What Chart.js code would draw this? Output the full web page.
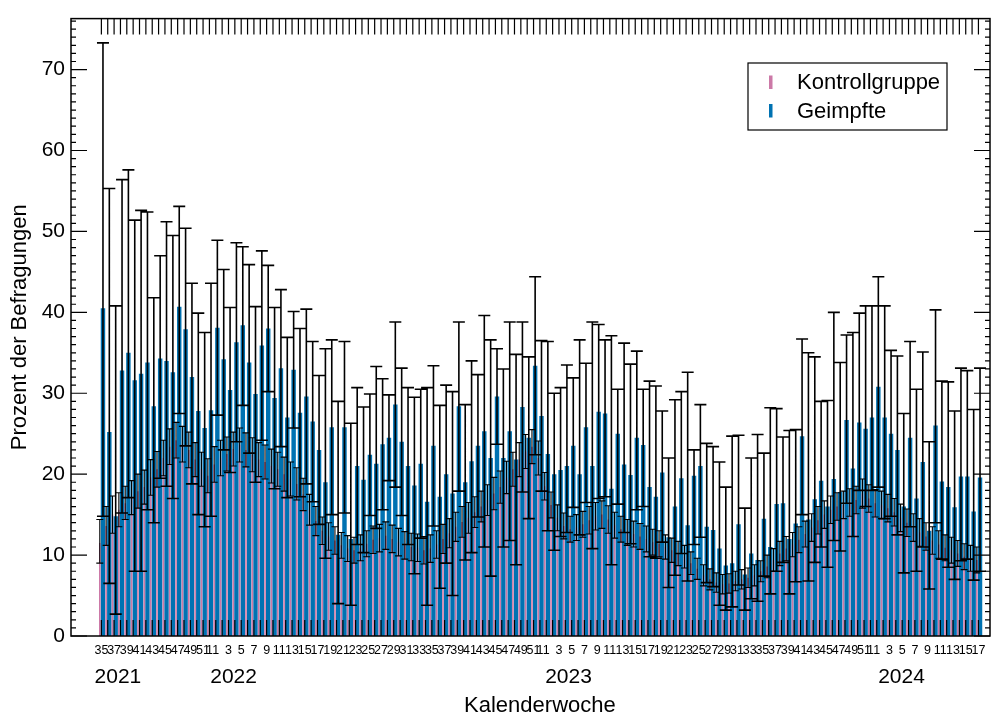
<!DOCTYPE html>
<html>
<head>
<meta charset="utf-8">
<script src="https://cdn.jsdelivr.net/npm/chart.js@4.4.1/dist/chart.umd.min.js"></script>
<style>
  html, body { margin: 0; padding: 0; background: #fff; }
  canvas { display: block; }
</style>
</head>
<body>
<canvas id="chart" width="998" height="713"></canvas>
<script>
// Calendar weeks 2021-W35 .. 2024-W17
const weeks = [
  35,36,37,38,39,40,41,42,43,44,45,46,47,48,49,50,51,52,
  1,2,3,4,5,6,7,8,9,10,11,12,13,14,15,16,17,18,19,20,21,22,23,24,25,26,27,28,29,30,31,32,33,34,35,36,37,38,39,40,41,42,43,44,45,46,47,48,49,50,51,52,
  1,2,3,4,5,6,7,8,9,10,11,12,13,14,15,16,17,18,19,20,21,22,23,24,25,26,27,28,29,30,31,32,33,34,35,36,37,38,39,40,41,42,43,44,45,46,47,48,49,50,51,52,
  1,2,3,4,5,6,7,8,9,10,11,12,13,14,15,16,17
];

// Labels printed under the week ticks
const xTickLabels = (
  '35,,37,,39,,41,,43,,45,,47,,49,,51,1,' +
  '1,,3,,5,,7,,9,,11,,13,,15,,17,,19,,21,,23,,25,,27,,29,,31,,33,,35,,37,,39,,41,,43,,45,,47,,49,,51,1,' +
  '1,,3,,5,,7,,9,,11,,13,,15,,17,,19,,21,,23,,25,,27,,29,,31,,33,,35,,37,,39,,41,,43,,45,,47,,49,,51,1,' +
  '1,,3,,5,,7,,9,,11,,13,,15,,17'
).split(',');

const years = ['2021', '2022', '2023', '2024'];
const yTickValues = [0, 10, 20, 30, 40, 50, 60, 70];

// Kontrollgruppe: share (%) with lower / upper confidence bounds
const kontroll = [
  11.5,13.6,15.0,15.6,16.4,17.1,17.9,18.4,19.6,20.6,22.0,23.4,24.2,23.7,23.0,21.8,20.6,19.8,
  21.2,22.0,22.5,23.1,23.6,23.0,22.4,21.8,21.5,21.0,20.6,20.0,19.4,18.8,17.5,15.6,14.2,13.0,12.3,11.8,11.2,10.8,10.6,10.9,11.4,11.9,12.1,12.4,12.0,11.6,11.2,11.0,10.9,10.6,10.8,11.3,12.0,12.7,13.5,14.1,14.6,15.3,16.0,16.8,17.6,18.4,19.6,20.6,21.8,22.8,23.4,22.0,
  18.5,16.2,14.6,13.6,13.2,13.4,13.8,14.3,14.8,15.0,14.4,13.7,13.2,12.8,12.6,12.3,12.0,11.6,11.4,11.0,10.6,10.2,9.8,9.0,8.3,7.5,7.0,6.6,6.4,6.5,6.8,7.0,7.2,7.5,8.0,8.6,9.4,10.2,10.8,11.3,11.9,12.6,13.4,14.3,15.0,15.6,16.0,16.2,16.5,16.8,17.6,17.0,
  16.4,16.2,15.8,15.3,14.6,14.0,13.4,12.8,12.3,11.8,11.3,10.9,10.6,10.2,9.8,9.6,9.4
];
const kontrollLow = [
  9.0,11.2,12.7,13.5,14.4,15.0,15.8,16.3,17.4,18.4,19.8,21.2,22.0,21.5,20.8,19.7,18.5,17.7,
  19.0,19.8,20.4,21.0,21.5,20.9,20.3,19.7,19.4,18.9,18.5,17.9,17.3,16.8,15.5,13.7,12.4,11.3,10.6,10.1,9.6,9.2,9.0,9.3,9.8,10.2,10.4,10.7,10.3,9.9,9.5,9.3,9.2,8.9,9.1,9.6,10.2,10.9,11.7,12.2,12.7,13.4,14.1,14.9,15.6,16.4,17.6,18.5,19.7,20.7,21.3,19.9,
  16.8,14.6,13.0,12.0,11.6,11.8,12.2,12.6,13.1,13.3,12.7,12.1,11.6,11.2,11.0,10.7,10.4,10.0,9.8,9.5,9.1,8.7,8.4,7.6,7.0,6.2,5.7,5.4,5.2,5.3,5.6,5.8,6.0,6.2,6.7,7.2,8.0,8.7,9.3,9.8,10.3,11.0,11.7,12.6,13.3,13.9,14.3,14.5,14.8,15.1,15.8,15.3,
  14.7,14.5,14.1,13.6,12.9,12.3,11.7,11.1,10.6,10.1,9.6,9.3,9.0,8.6,8.2,8.0,7.8
];
const kontrollHigh = [
  14.4,16.0,17.3,17.7,18.5,19.2,20.0,20.5,21.8,22.8,24.2,25.6,26.4,25.9,25.2,23.9,22.7,21.9,
  23.4,24.2,24.6,25.2,25.7,25.1,24.5,23.9,23.6,23.1,22.7,22.1,21.5,20.8,19.5,17.5,16.0,14.7,14.0,13.5,12.8,12.4,12.2,12.5,13.0,13.6,13.8,14.1,13.7,13.3,12.9,12.7,12.6,12.3,12.5,13.0,13.8,14.5,15.3,16.0,16.5,17.2,17.9,18.7,19.6,20.4,21.6,22.7,23.9,24.9,25.5,24.1,
  20.2,17.8,16.2,15.2,14.8,15.0,15.4,16.0,16.5,16.7,16.1,15.3,14.8,14.4,14.2,13.9,13.6,13.2,13.0,12.5,12.1,11.7,11.2,10.4,9.6,8.8,8.3,7.8,7.6,7.7,8.0,8.2,8.4,8.8,9.3,10.0,10.8,11.7,12.3,12.8,13.5,14.2,15.1,16.0,16.7,17.3,17.7,17.9,18.2,18.5,19.4,18.7,
  18.1,17.9,17.5,17.0,16.3,15.7,15.1,14.5,14.0,13.5,13.0,12.5,12.2,11.8,11.4,11.2,11.0
];

// Geimpfte: share (%) with lower / upper confidence bounds
const geimpft = [
  40.5,25.2,14.8,32.8,35.0,31.6,32.4,33.8,28.4,34.3,34.0,32.6,40.7,37.9,32.0,27.8,25.7,27.9,
  38.1,34.2,30.4,36.3,38.4,33.8,29.9,35.9,38.0,29.4,33.1,27.0,32.9,27.6,29.6,26.5,23.0,19.0,25.8,12.5,25.8,12.0,21.0,19.3,22.4,21.3,23.7,24.5,28.6,24.0,21.0,18.6,21.3,16.6,23.5,17.2,20.0,17.6,28.4,19.0,21.6,23.5,25.3,22.0,29.6,22.0,25.3,21.8,28.3,24.5,33.4,27.2,
  22.5,20.0,20.5,21.0,23.5,20.0,25.8,21.0,27.7,27.5,18.2,25.0,21.2,19.9,24.5,23.6,18.4,17.2,20.2,12.2,16.0,19.5,13.7,19.8,21.0,13.5,13.1,10.8,8.7,9.0,13.8,7.6,10.2,9.4,14.5,11.0,16.3,16.4,12.0,13.9,24.7,14.4,16.9,19.2,16.0,19.4,17.8,26.7,20.7,26.4,25.6,27.0,
  30.8,27.0,25.0,23.0,16.0,24.5,17.0,21.5,13.0,26.0,19.1,18.4,15.9,19.7,19.7,15.4,19.6
];
const geimpftLow = [
  14.8,6.5,2.7,15.2,17.1,8.0,8.0,15.6,14.0,19.5,18.5,17.0,27.5,23.5,18.8,15.0,13.5,14.8,
  27.3,23.0,20.2,24.0,28.5,22.6,19.0,24.2,30.2,18.2,23.4,17.1,25.7,17.2,18.8,16.6,13.8,9.6,15.0,4.0,15.2,3.8,11.3,10.3,14.9,13.3,15.6,19.2,18.4,14.9,11.3,7.7,12.1,3.8,13.6,5.9,9.0,5.0,17.9,9.4,10.3,14.7,11.0,7.4,23.7,11.0,11.8,8.8,17.8,14.5,22.4,17.9,
  13.0,10.6,12.3,12.8,15.9,12.5,16.5,10.8,17.0,17.2,8.8,16.3,12.8,11.4,15.6,16.0,9.8,9.6,11.6,6.0,7.5,10.2,6.8,11.3,12.2,6.6,6.1,3.8,3.2,3.6,6.3,3.2,4.6,4.3,7.4,5.2,8.0,9.1,5.2,6.7,15.0,6.8,9.1,11.0,8.5,11.8,10.5,16.4,12.3,18.0,16.0,18.0,
  18.4,14.5,14.8,12.5,7.8,13.5,8.0,11.0,5.8,14.0,9.5,8.5,7.0,9.3,9.5,6.9,8.0
];
const geimpftHigh = [
  73.3,55.3,40.8,56.4,57.6,51.4,52.6,52.4,41.8,47.0,51.2,49.5,53.1,50.4,43.6,39.9,37.5,43.6,
  48.9,45.3,40.6,48.6,48.1,45.9,40.7,47.6,45.8,40.6,42.8,36.9,40.1,38.0,40.4,36.4,32.2,35.5,36.6,29.0,36.4,26.3,30.7,28.3,29.9,33.3,31.8,29.8,38.8,33.1,30.7,29.5,30.5,30.7,33.4,28.5,31.0,30.2,38.8,28.6,34.0,32.3,39.6,36.6,35.5,33.0,38.8,34.8,38.8,34.5,44.4,36.5,
  36.4,30.0,30.7,33.5,31.9,36.6,33.7,38.8,38.5,36.6,37.1,30.5,36.2,33.6,35.2,30.5,31.5,30.9,27.8,22.0,29.2,30.2,32.6,23.0,28.6,23.8,23.4,21.5,18.4,24.7,24.8,15.8,22.0,24.9,22.6,28.2,28.1,24.6,25.4,25.5,36.7,35.0,34.5,29.0,29.1,40.0,33.8,37.2,37.5,39.9,40.8,40.8,
  44.4,40.8,35.3,34.6,27.5,36.4,30.5,35.1,24.0,40.3,31.5,31.4,27.8,33.1,32.8,28.0,33.1
];

const FONT = '"Liberation Sans", Arial, Helvetica, sans-serif';
const NARROW = '"Liberation Sans Narrow", "Arial Narrow", "Liberation Sans", sans-serif';

// Layout of the drawing (pixels / week-index units)
const layout = {
  yearLabelAt: [2.6, 20.8, 73.5, 125.9],
  majorTick: 16,
  minorTick: 5,
  legend: { x: 748, y: 63, w: 199, h: 67 }
};

// Error bars on every bar, from the dataset's errLow / errHigh arrays
const errorBars = {
  id: 'errorBars',
  afterDatasetsDraw(chart) {
    const { ctx } = chart;
    const y = chart.scales.y;
    ctx.save();
    ctx.strokeStyle = '#000';
    chart.data.datasets.forEach((ds, di) => {
      const meta = chart.getDatasetMeta(di);
      const half = ds.errCap / 2;
      ctx.lineWidth = ds.errWidth;
      ctx.beginPath();
      meta.data.forEach((bar, i) => {
        const lo = y.getPixelForValue(ds.errLow[i]);
        const hi = y.getPixelForValue(ds.errHigh[i]);
        const x = bar.x;
        ctx.moveTo(x, lo); ctx.lineTo(x, hi);
        ctx.moveTo(x - half, lo); ctx.lineTo(x + half, lo);
        ctx.moveTo(x - half, hi); ctx.lineTo(x + half, hi);
      });
      ctx.stroke();
    });
    ctx.restore();
  }
};

// Box frame with inward ticks, year row, x title and legend
const frameDecor = {
  id: 'frameDecor',
  afterDatasetsDraw(chart) {
    const { ctx, chartArea: a } = chart;
    const x = chart.scales.x, y = chart.scales.y;
    ctx.save();

    // week ticks on bottom and top edges
    ctx.strokeStyle = '#000';
    ctx.lineWidth = 1.2;
    ctx.beginPath();
    weeks.forEach((w, i) => {
      const px = x.getPixelForValue(i);
      ctx.moveTo(px, a.bottom); ctx.lineTo(px, a.bottom - layout.majorTick);
      ctx.moveTo(px, a.top); ctx.lineTo(px, a.top + layout.majorTick);
    });
    ctx.stroke();

    // percent ticks on left and right edges (major every 10, minor every 1)
    ctx.beginPath();
    for (let v = 0; v <= Math.floor(y.max); v++) {
      const py = y.getPixelForValue(v);
      const len = v % 10 === 0 ? layout.majorTick : layout.minorTick;
      ctx.moveTo(a.left, py); ctx.lineTo(a.left + len, py);
      ctx.moveTo(a.right, py); ctx.lineTo(a.right - len, py);
    }
    ctx.stroke();

    // frame
    ctx.lineWidth = 1.5;
    ctx.strokeRect(a.left, a.top, a.right - a.left, a.bottom - a.top);

    // year row
    ctx.fillStyle = '#000';
    ctx.font = '21px ' + FONT;
    ctx.textAlign = 'center';
    ctx.textBaseline = 'alphabetic';
    years.forEach((yr, k) => {
      ctx.fillText(yr, x.getPixelForValue(layout.yearLabelAt[k]), 683);
    });

    // x axis title, centred on the week range
    ctx.font = '22px ' + FONT;
    const mid = (x.getPixelForValue(0) + x.getPixelForValue(weeks.length - 1)) / 2;
    ctx.fillText('Kalenderwoche', mid, 712);

    // legend
    const L = layout.legend;
    ctx.lineWidth = 1.2;
    ctx.strokeStyle = '#000';
    ctx.fillStyle = '#fff';
    ctx.fillRect(L.x, L.y, L.w, L.h);
    ctx.strokeRect(L.x, L.y, L.w, L.h);
    ctx.textAlign = 'left';
    chart.data.datasets.forEach((ds, k) => {
      const base = L.y + 26 + k * 28.5;
      ctx.fillStyle = ds.backgroundColor;
      ctx.fillRect(L.x + 21, base - 13.5, 3.5, 13.5);
      ctx.fillStyle = '#000';
      ctx.fillText(ds.label, L.x + 49, base);
    });

    ctx.restore();
  }
};

const points = (vals) => weeks.map((w, i) => ({ x: i, y: vals[i] }));

new Chart(document.getElementById('chart'), {
  type: 'bar',
  data: {
    datasets: [
      {
        label: 'Kontrollgruppe',
        data: points(kontroll),
        errLow: kontrollLow,
        errHigh: kontrollHigh,
        errCap: 7,
        errWidth: 1.1,
        backgroundColor: '#CC79A7',
        categoryPercentage: 1,
        barPercentage: 0.5
      },
      {
        label: 'Geimpfte',
        data: points(geimpft),
        errLow: geimpftLow,
        errHigh: geimpftHigh,
        errCap: 12,
        errWidth: 1.6,
        backgroundColor: '#0072B2',
        categoryPercentage: 1,
        barPercentage: 1.4
      }
    ]
  },
  options: {
    responsive: false,
    devicePixelRatio: 1,
    animation: false,
    layout: { padding: { top: 16, right: 8, left: 0, bottom: 0 } },
    plugins: {
      legend: { display: false },
      tooltip: { enabled: false }
    },
    scales: {
      x: {
        type: 'linear',
        position: 'bottom',
        min: -4.26,
        max: 139.3,
        grid: { display: false, drawTicks: false },
        border: { display: false },
        afterBuildTicks(axis) {
          axis.ticks = weeks.map((w, i) => ({ value: i }));
        },
        afterFit(axis) { axis.height = 77; },
        ticks: {
          autoSkip: false,
          maxRotation: 0,
          minRotation: 0,
          padding: 7,
          color: '#000',
          font: { family: NARROW, size: 12.5 },
          callback: (value) => xTickLabels[value] ?? ''
        }
      },
      y: {
        min: 0,
        max: 76.3,
        grid: { display: false, drawTicks: false },
        border: { display: false },
        afterBuildTicks(axis) {
          axis.ticks = yTickValues.map(v => ({ value: v }));
        },
        afterFit(axis) { axis.width = 71; },
        ticks: {
          padding: 6,
          color: '#000',
          font: { family: FONT, size: 21 }
        },
        title: {
          display: true,
          text: 'Prozent der Befragungen',
          color: '#000',
          font: { family: FONT, size: 22 },
          padding: { top: 7, bottom: 0 }
        }
      }
    }
  },
  plugins: [errorBars, frameDecor]
});
</script>
</body>
</html>
